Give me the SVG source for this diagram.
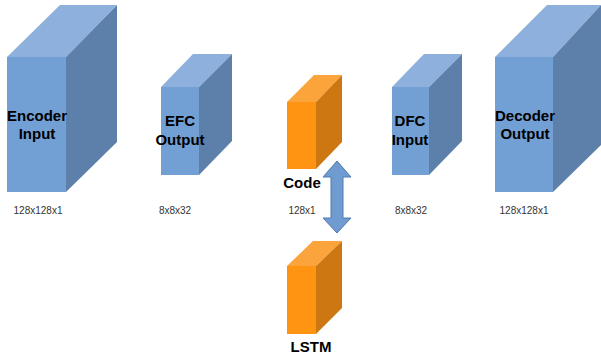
<svg xmlns="http://www.w3.org/2000/svg" width="601" height="354" viewBox="0 0 601 354">
<style>
.bf{fill:#729fd4}.bt{fill:#8db1dc}.bs{fill:#5d80ab}
.of{fill:#ff9412}.ot{fill:#fca43c}.os{fill:#cd7712}
.lab{font-family:"Liberation Sans",Arial,sans-serif;font-weight:bold;font-size:15px;fill:#000;text-anchor:middle}
.dim{font-family:"Liberation Sans",Arial,sans-serif;font-size:10px;fill:#333;text-anchor:middle}
</style>
<rect width="601" height="354" fill="#fff"/>
<g id="encoder">
<polygon class="bt" points="7,57 60,5 117,5 66,57"/>
<polygon class="bs" points="66,57 117,5 117,142 66,192"/>
<rect class="bf" x="7" y="57" width="59" height="135"/>
<text class="lab" x="37" y="121">Encoder</text>
<text class="lab" x="37" y="139">Input</text>
<text class="dim" x="38" y="214">128x128x1</text>
</g>
<g id="efc">
<polygon class="bt" points="161,87 193,54 232,54 199,87"/>
<polygon class="bs" points="199,87 232,54 232,141 199,175"/>
<rect class="bf" x="161" y="87" width="38" height="88"/>
<text class="lab" x="180" y="126">EFC</text>
<text class="lab" x="180" y="145">Output</text>
<text class="dim" x="175" y="214">8x8x32</text>
</g>
<g id="code">
<polygon class="ot" points="287,102 314,75 342,75 316,102"/>
<polygon class="os" points="316,102 342,75 342,142 316,169"/>
<rect class="of" x="287" y="102" width="29" height="67"/>
<text class="lab" x="302" y="188">Code</text>
<text class="dim" x="302" y="214">128x1</text>
</g>
<g id="lstm">
<polygon class="ot" points="287,266 313,241 342,241 316,266"/>
<polygon class="os" points="316,266 342,241 342,308 316,334"/>
<rect class="of" x="287" y="266" width="29" height="68"/>
<text class="lab" x="311" y="352">LSTM</text>
</g>
<g id="dfc">
<polygon class="bt" points="392,87 424,54 462,54 429,87"/>
<polygon class="bs" points="429,87 462,54 462,141 429,175"/>
<rect class="bf" x="392" y="87" width="37" height="88"/>
<text class="lab" x="410" y="126">DFC</text>
<text class="lab" x="410" y="145">Input</text>
<text class="dim" x="411" y="214">8x8x32</text>
</g>
<g id="decoder">
<polygon class="bt" points="495,57 547,5 601,5 553,57"/>
<polygon class="bs" points="553,57 601,5 601,145 553,192"/>
<rect class="bf" x="495" y="57" width="58" height="135"/>
<text class="lab" x="525" y="121">Decoder</text>
<text class="lab" x="525" y="139">Output</text>
<text class="dim" x="524" y="214">128x128x1</text>
</g>
<g id="connectors">
<polygon points="337,161 351,177 343,177 343,218 351,218 337,233 323,218 331,218 331,177 323,177" fill="#6f9bd0" stroke="#4f7bb0" stroke-width="1"/>
</g>
</svg>
